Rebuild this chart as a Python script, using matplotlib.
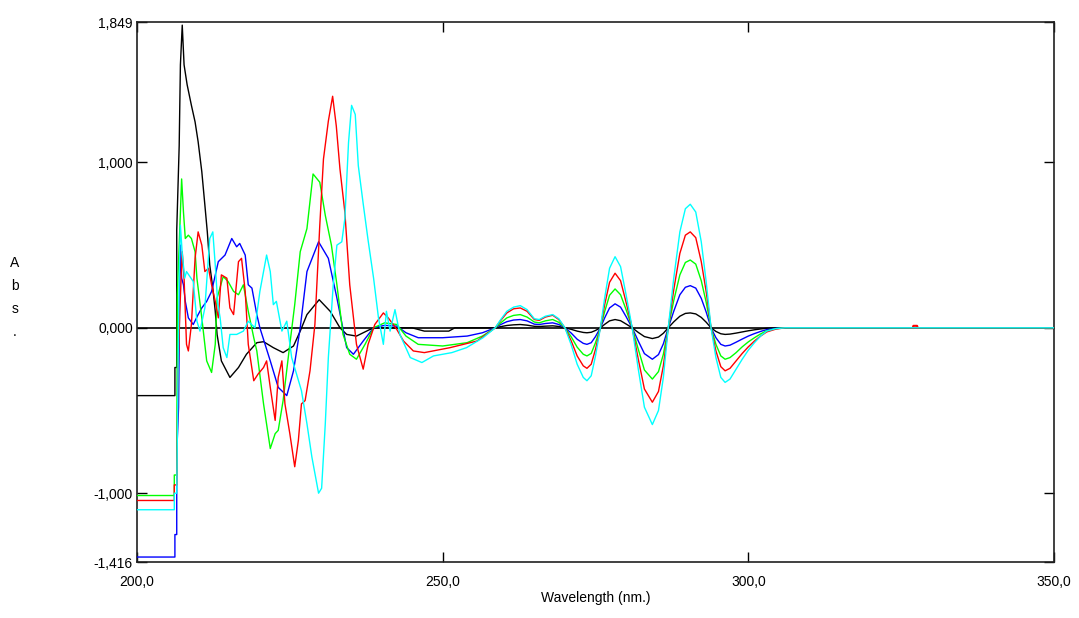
import matplotlib
matplotlib.use("Agg")
import matplotlib.pyplot as plt

# early part of each spectrum (200 - ~258 nm)
black_wl = [200, 206.2, 206.2, 206.5, 206.5, 206.9, 207.1, 207.4, 207.7, 208.2, 208.9, 209.5,
            210.0, 210.6, 211.1, 211.5, 211.9, 212.4, 212.8, 213.1, 213.8, 215.2, 216.6, 217.9,
            219.6, 220.7, 222.3, 223.9, 225.6, 226.7, 227.8, 229.8, 231.6, 233.2, 234.3, 235.9,
            238.1, 239.2, 245.0, 247.0, 251.0, 252.0]
black_abs = [-0.41, -0.41, -0.24, -0.24, 0.59, 1.10, 1.59, 1.83, 1.59, 1.47, 1.345, 1.245,
             1.125, 0.944, 0.743, 0.58, 0.38, 0.24, 0.10, -0.04, -0.20, -0.30, -0.24, -0.16,
             -0.09, -0.084, -0.12, -0.15, -0.11, -0.02, 0.08, 0.17, 0.10, 0.0, -0.04, -0.05,
             -0.01, 0.0, 0.0, -0.02, -0.02, 0.0]

blue_wl = [200, 206.2, 206.2, 206.5, 206.5, 206.8, 207.0, 207.1, 207.3, 207.6, 207.9, 208.4,
           209.2, 210.0, 210.6, 211.4, 212.2, 213.3, 214.4, 215.5, 216.3, 216.8, 217.7, 218.2,
           218.8, 219.6, 220.1, 221.8, 223.1, 224.5, 225.6, 226.7, 227.8, 229.7, 231.3, 232.7,
           234.3, 235.4, 237.0, 238.7, 240.5, 242.5, 244.0, 246.0, 250.0, 254.0, 256.5]
blue_abs = [-1.386, -1.386, -1.25, -1.25, -0.76, -0.48, 0.30, 0.50, 0.30, 0.26, 0.16, 0.06,
            0.02, 0.08, 0.12, 0.16, 0.22, 0.40, 0.44, 0.54, 0.49, 0.51, 0.44, 0.26,
            0.24, 0.08, 0.0, -0.20, -0.36, -0.41, -0.26, 0.0, 0.34, 0.52, 0.42, 0.18,
            -0.12, -0.16, -0.08, 0.0, 0.015, 0.01, -0.03, -0.06, -0.06, -0.05, -0.03]

green_wl = [200, 206.1, 206.1, 206.5, 206.6, 207.0, 207.3, 207.6, 207.9, 208.4, 208.9, 209.5,
            209.8, 210.6, 211.4, 212.2, 212.8, 213.1, 214.1, 214.9, 215.8, 216.6, 217.4, 218.2,
            219.1, 219.6, 220.7, 221.8, 222.6, 223.1, 223.9, 225.0, 225.8, 226.7, 227.8, 228.8,
            229.9, 230.8, 231.8, 232.7, 233.7, 234.8, 235.9, 237.3, 238.7, 240.5, 242.5, 244.0,
            246.0, 250.0, 254.0, 256.5]
green_abs = [-1.014, -1.014, -0.89, -0.89, 0.2, 0.6, 0.90, 0.70, 0.54, 0.56, 0.54, 0.46,
             0.30, 0.06, -0.20, -0.27, -0.10, 0.18, 0.31, 0.28, 0.22, 0.20, 0.26, 0.10,
             -0.06, -0.14, -0.46, -0.73, -0.64, -0.62, -0.44, -0.10, 0.14, 0.46, 0.60, 0.93,
             0.88, 0.68, 0.50, 0.26, -0.04, -0.16, -0.19, -0.10, 0.0, 0.03, 0.02, -0.05,
             -0.10, -0.11, -0.09, -0.05]

red_wl = [200, 206.1, 206.1, 206.5, 206.7, 207.0, 207.4, 207.7, 208.1, 208.4, 208.9, 209.5,
          210.0, 210.6, 211.1, 211.7, 212.2, 212.8, 213.3, 213.8, 214.7, 215.2, 215.8, 216.6,
          217.1, 217.7, 218.2, 219.1, 219.8, 220.7, 221.2, 221.8, 222.6, 223.1, 223.7, 224.2,
          225.0, 225.8, 226.4, 226.9, 227.5, 228.3, 229.1, 229.9, 230.5, 231.3, 232.0, 232.6,
          233.2, 234.0, 234.8, 235.9, 237.0, 237.8, 238.9, 240.3, 241.1, 242.5, 243.6, 245.2,
          247.0, 251.2, 255.6]
red_abs = [-1.044, -1.044, -0.95, -0.95, -0.30, 0.10, 0.46, 0.30, -0.10, -0.14, 0.02, 0.42,
           0.58, 0.50, 0.34, 0.36, 0.26, 0.16, 0.06, 0.32, 0.30, 0.12, 0.08, 0.40,
           0.42, 0.22, -0.10, -0.32, -0.28, -0.24, -0.20, -0.36, -0.56, -0.30, -0.20, -0.46,
           -0.64, -0.84, -0.68, -0.46, -0.44, -0.26, 0.02, 0.62, 1.02, 1.25, 1.40, 1.22,
           0.96, 0.70, 0.26, -0.10, -0.25, -0.10, 0.02, 0.09, 0.06, -0.01, -0.08, -0.14,
           -0.15, -0.12, -0.08]

cyan_wl = [200, 206.1, 206.1, 206.5, 206.7, 206.9, 207.1, 207.4, 207.8, 208.1, 209.2, 209.8,
           210.3, 211.1, 211.9, 212.4, 212.8, 213.2, 213.6, 214.1, 214.7, 215.2, 216.3, 217.4,
           218.2, 219.3, 220.1, 221.2, 221.8, 222.3, 222.8, 223.7, 224.5, 225.3, 226.9, 227.8,
           228.6, 229.7, 230.2, 230.8, 231.3, 232.1, 232.7, 233.5, 234.0, 234.6, 235.1, 235.7,
           236.2, 237.0, 237.8, 238.7, 239.5, 240.3, 240.8, 241.4, 242.2, 243.0, 244.7, 246.6,
           248.5, 251.5, 253.9, 256.6]
cyan_abs = [-1.10, -1.10, -1.00, -1.00, -0.30, 0.30, 0.62, 0.45, 0.30, 0.34, 0.28, 0.04,
            -0.02, 0.12, 0.54, 0.58, 0.38, 0.15, 0.06, -0.12, -0.18, -0.04, -0.04, -0.02,
            0.04, 0.0, 0.22, 0.44, 0.34, 0.14, 0.16, -0.02, 0.04, -0.18, -0.38, -0.58,
            -0.78, -1.00, -0.97, -0.58, -0.18, 0.26, 0.50, 0.52, 0.66, 1.12, 1.345, 1.29,
            0.98, 0.75, 0.53, 0.30, 0.06, -0.10, 0.10, -0.02, 0.11, -0.04, -0.18, -0.21,
            -0.17, -0.15, -0.12, -0.06]

# derivative bands 258 - 350 nm (shared wavelength points)
band_wl = [258.6, 259.5, 260.5, 261.6, 262.7, 263.8, 265.0, 265.8, 266.8, 268.0, 269.0, 270.0,
           271.0, 272.0, 273.0, 273.6, 274.3, 275.0, 275.8,
           276.5, 277.3, 278.2, 279.1, 280.0, 281.0,
           282.0, 283.0, 284.3, 285.3, 286.1, 286.9,
           287.8, 288.8, 289.7, 290.5, 291.4, 292.3, 293.1, 293.9,
           294.7, 295.5, 296.2, 297.0, 298.0, 299.0, 300.0, 301.0, 302.0, 303.0, 304.5, 306.0,
           350.0]
cyan_band = [0, 0.05, 0.10, 0.125, 0.134, 0.11, 0.055, 0.05, 0.07, 0.08, 0.055, 0,
             -0.10, -0.22, -0.30, -0.32, -0.29, -0.17, 0,
             0.18, 0.36, 0.43, 0.37, 0.20, 0,
             -0.25, -0.48, -0.585, -0.50, -0.30, 0,
             0.30, 0.58, 0.72, 0.747, 0.70, 0.52, 0.28, 0,
             -0.18, -0.30, -0.33, -0.31, -0.25, -0.19, -0.135, -0.09, -0.05, -0.02, -0.005, 0,
             0]
red_band = [0, 0.045, 0.09, 0.115, 0.12, 0.10, 0.05, 0.045, 0.065, 0.076, 0.05, 0,
            -0.077, -0.17, -0.23, -0.245, -0.22, -0.13, 0,
            0.14, 0.275, 0.33, 0.285, 0.155, 0,
            -0.19, -0.37, -0.45, -0.385, -0.23, 0,
            0.23, 0.45, 0.56, 0.58, 0.545, 0.40, 0.22, 0,
            -0.14, -0.235, -0.26, -0.245, -0.20, -0.155, -0.115, -0.08, -0.05, -0.025, -0.008, 0,
            0]
green_band = [0, 0.03, 0.06, 0.075, 0.08, 0.065, 0.035, 0.03, 0.042, 0.05, 0.033, 0,
              -0.053, -0.117, -0.16, -0.17, -0.155, -0.09, 0,
              0.098, 0.197, 0.235, 0.20, 0.11, 0,
              -0.13, -0.255, -0.31, -0.265, -0.16, 0,
              0.165, 0.32, 0.395, 0.41, 0.385, 0.285, 0.155, 0,
              -0.10, -0.17, -0.19, -0.18, -0.15, -0.115, -0.085, -0.06, -0.037, -0.018, -0.005, 0,
              0]
blue_band = [0, 0.02, 0.037, 0.047, 0.05, 0.042, 0.022, 0.02, 0.026, 0.03, 0.02, 0,
             -0.031, -0.069, -0.094, -0.10, -0.09, -0.053, 0,
             0.06, 0.12, 0.145, 0.125, 0.068, 0,
             -0.08, -0.156, -0.19, -0.162, -0.097, 0,
             0.10, 0.20, 0.245, 0.255, 0.24, 0.178, 0.096, 0,
             -0.06, -0.10, -0.11, -0.105, -0.087, -0.068, -0.05, -0.035, -0.022, -0.011, -0.003, 0,
             0]
black_band = [0, 0.007, 0.014, 0.018, 0.02, 0.016, 0.009, 0.008, 0.01, 0.012, 0.008, 0,
              -0.009, -0.02, -0.028, -0.03, -0.027, -0.016, 0,
              0.021, 0.042, 0.05, 0.043, 0.023, 0,
              -0.028, -0.053, -0.065, -0.056, -0.033, 0,
              0.036, 0.07, 0.087, 0.09, 0.084, 0.063, 0.034, 0,
              -0.022, -0.036, -0.04, -0.038, -0.032, -0.025, -0.018, -0.012, -0.007, -0.003, -0.001, 0,
              0]

# little red blip near 327 nm
blip_wl = [326.9, 327.0, 327.6, 327.7]
blip_abs = [0, 0.012, 0.012, 0]

y_ticks = [1.849, 1.0, 0.0, -1.0, -1.416]
y_labels = ["1,849", "1,000", "0,000", "-1,000", "-1,416"]
x_ticks = [200, 250, 300, 350]
x_labels = ["200,0", "250,0", "300,0", "350,0"]

plt.rcParams['font.family'] = ['Liberation Sans', 'DejaVu Sans']

fig = plt.figure(figsize=(10.79, 6.18), dpi=100)
ax = fig.add_axes([137 / 1079, 1 - 562 / 618, (1054 - 137) / 1079, (562 - 22) / 618])

ax.axhline(0, color='black', lw=1.2, zorder=1)

series = [
    (black_wl, black_abs, black_band, '#000000'),
    (blue_wl, blue_abs, blue_band, '#0000ff'),
    (green_wl, green_abs, green_band, '#00ff00'),
    (red_wl, red_abs, red_band, '#ff0000'),
    (cyan_wl, cyan_abs, cyan_band, '#00ffff'),
]
for i, (wl, ab, band, col) in enumerate(series):
    ax.plot(wl + band_wl, ab + band, color=col, lw=1.0, zorder=2 + i)
    if col == '#ff0000':
        ax.plot(blip_wl, blip_abs, color=col, lw=1.5, zorder=2 + i)

ax.set_xlim(200, 350)
ax.set_ylim(-1.416, 1.849)
ax.set_yticks(y_ticks)
ax.set_yticklabels(y_labels)
ax.set_xticks(x_ticks)
ax.set_xticklabels(x_labels)
ax.tick_params(axis='both', direction='in', length=7, width=1.0, labelsize=10,
               top=True, right=True, colors='black')
ax.tick_params(axis='x', pad=9)
ax.tick_params(axis='y', pad=3)
for s in ax.spines.values():
    s.set_linewidth(1.2)
    s.set_color('#202020')

ax.set_xlabel("Wavelength (nm.)", fontsize=10, labelpad=2)

for k, ch in enumerate(["A", "b", "s", "."]):
    fig.text(15 / 1079, 1 - (263 + 23 * k) / 618, ch, fontsize=10,
             ha='center', va='center')

fig.savefig("out.png", dpi=100, facecolor='white')
